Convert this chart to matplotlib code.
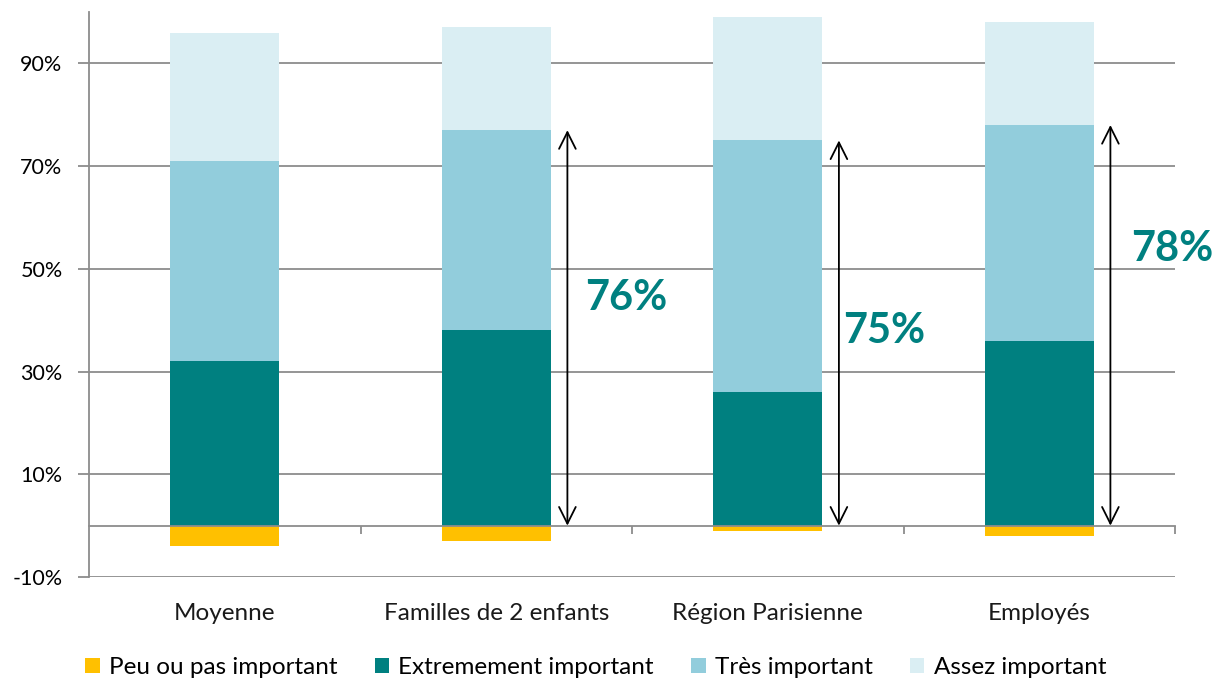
import matplotlib.pyplot as plt
from matplotlib.transforms import blended_transform_factory

# Data
categories = ["Moyenne", "Familles de 2 enfants", "Région Parisienne", "Employés"]
peu = [-4, -3, -1, -2]
extremement = [32, 38, 26, 36]
tres = [39, 39, 49, 42]
assez = [25, 20, 24, 20]
highlight = {1: "76%", 2: "75%", 3: "78%"}

series_names = ["Peu ou pas important", "Extremement important",
                "Très important", "Assez important"]
colors = ["#FFC000", "#008080", "#92CDDC", "#DAEEF3"]
grid_color = "#8C8C8C"

plt.rcParams['font.family'] = ['Lato', 'DejaVu Sans']

fig = plt.figure(figsize=(12.16, 6.79), dpi=100)
ax = fig.add_axes([0.0732, 0.1502, 0.8931, 0.8321])

x = list(range(len(categories)))
w = 0.4

# Stacked bars
ax.bar(x, peu, w, color=colors[0], label=series_names[0], zorder=3)
ax.bar(x, extremement, w, color=colors[1], label=series_names[1], zorder=3)
ax.bar(x, tres, w, bottom=extremement, color=colors[2], label=series_names[2], zorder=3)
b3 = [e + t for e, t in zip(extremement, tres)]
ax.bar(x, assez, w, bottom=b3, color=colors[3], label=series_names[3], zorder=3)

# Axes styling
ax.set_xlim(-0.5, len(categories) - 0.5)
ax.set_ylim(-10, 100)
ax.set_yticks([-10, 10, 30, 50, 70, 90])
ax.set_yticklabels(["-10%", "10%", "30%", "50%", "70%", "90%"], fontsize=15.5)
ax.yaxis.grid(True, color=grid_color, lw=1.3, zorder=0)
ax.tick_params(axis='y', length=8, width=1.3, color=grid_color, pad=11)

for s in ["top", "right"]:
    ax.spines[s].set_visible(False)
ax.spines["left"].set_color(grid_color)
ax.spines["left"].set_linewidth(1.3)
ax.spines["bottom"].set_position(("data", 0))
ax.spines["bottom"].set_color(grid_color)
ax.spines["bottom"].set_linewidth(1.3)
ax.spines["bottom"].set_zorder(4)

ax.set_xticks([i + 0.5 for i in x])
ax.set_xticklabels([])
ax.tick_params(axis='x', direction='out', length=6, width=1.3, color=grid_color)

trans = blended_transform_factory(ax.transData, ax.transAxes)
for i, c in enumerate(categories):
    ax.text(i, -0.064, c, transform=trans, ha='center', va='center',
            fontsize=17.5, color="#1a1a1a")

# Arrows and highlighted totals
label_pos = {1: (0.48, 44.4), 2: (0.43, 37.8), 3: (0.49, 53.9)}
for i, txt in highlight.items():
    xa = i + 0.262
    ax.annotate("", xy=(xa, b3[i]), xytext=(xa, 0),
                arrowprops=dict(arrowstyle="<->", color="black", lw=1.3,
                                mutation_scale=30, shrinkA=0, shrinkB=0),
                zorder=5)
    dx, ty = label_pos[i]
    ax.text(i + dx, ty, txt, ha='center', va='center', fontsize=30,
            fontweight='bold', color="#008080", zorder=5)

fig.legend(loc='center', bbox_to_anchor=(0.49, 0.017), ncol=4,
           frameon=False, fontsize=17.5, handlelength=0.58, handleheight=0.58,
           handletextpad=0.38, columnspacing=1.55, borderaxespad=0)

fig.savefig("out.png", dpi=100)
